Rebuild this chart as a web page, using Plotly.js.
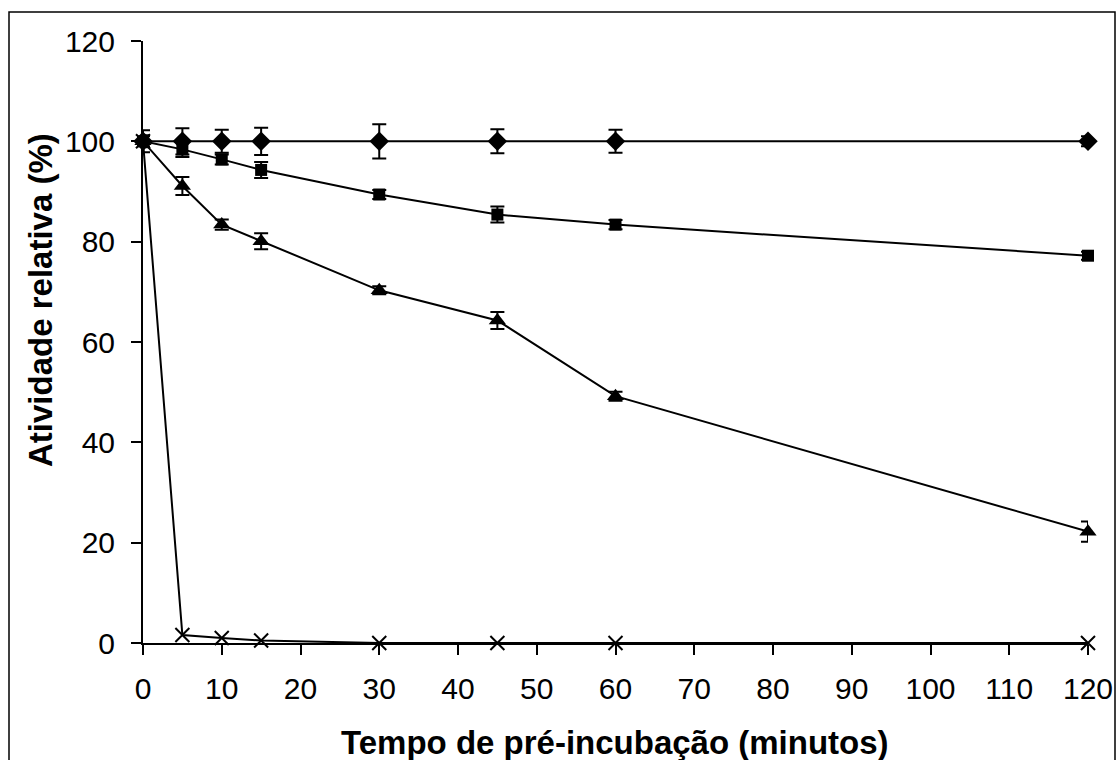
<!DOCTYPE html>
<html>
<head>
<meta charset="utf-8">
<script src="https://cdn.plot.ly/plotly-3.0.1.min.js"></script>
<style>html,body{margin:0;padding:0;background:#fff;}#chart{width:1118px;height:760px;}</style>
</head>
<body>
<div id="chart"></div>
<script>
var tempo = [0, 5, 10, 15, 30, 45, 60, 120];
var serieDiamante = [100, 100, 100, 100, 100, 100, 100, 100];
var erroDiamante = [2.2, 2.6, 2.3, 2.7, 3.4, 2.4, 2.3, 1.0];
var serieQuadrado = [100, 98.4, 96.4, 94.3, 89.4, 85.4, 83.4, 77.2];
var erroQuadrado = [1.2, 1.5, 1.0, 1.6, 0.9, 1.6, 0.9, 0.8];
var serieTriangulo = [100, 91.1, 83.4, 80.1, 70.3, 64.3, 49.2, 22.2];
var erroTriangulo = [1.0, 1.8, 1.0, 1.6, 0.8, 1.7, 0.9, 2.0];
var serieX = [100, 1.6, 1.0, 0.5, 0, 0, 0, 0];
var xTicks = [0, 10, 20, 30, 40, 50, 60, 70, 80, 90, 100, 110, 120];
var yTicks = [0, 20, 40, 60, 80, 100, 120];
var xTitle = 'Tempo de pré-incubação (minutos)';
var yTitle = 'Atividade relativa (%)';

function trace(y, err, symbol, size, lw) {
  var t = {
    x: tempo, y: y, type: 'scatter', mode: 'lines+markers',
    line: {color: '#000', width: 2},
    marker: {symbol: symbol, size: size, color: '#000', line: {color: '#000', width: lw || 0}},
    showlegend: false, cliponaxis: false
  };
  if (err) t.error_y = {type: 'data', array: err, visible: true, color: '#000', thickness: 2, width: 7};
  return t;
}

var data = [
  trace(serieX, null, 'x-thin-open', 14, 2),
  trace(serieTriangulo, erroTriangulo, 'triangle-up', 15),
  trace(serieQuadrado, erroQuadrado, 'square', 12),
  trace(serieDiamante, erroDiamante, 'diamond', 15)
];

var fam = 'Liberation Sans, Arial, sans-serif';
var W = 1118, H = 760, L = 143, R = 30, T = 41, B = 117;
var pw = W - L - R, ph = H - T - B;
var layout = {
  width: W, height: H,
  margin: {l: L, r: R, t: T, b: B},
  paper_bgcolor: '#fff', plot_bgcolor: '#fff',
  font: {family: fam, color: '#000'},
  showlegend: false,
  xaxis: {
    range: [0, 120], tickvals: xTicks, ticktext: xTicks.map(String),
    showgrid: false, zeroline: false, showline: true, linecolor: '#000', linewidth: 2,
    ticks: 'outside', ticklen: 10, tickwidth: 2, tickcolor: '#000',
    ticklabelstandoff: 8,
    tickfont: {family: fam, size: 30, color: '#000'}
  },
  yaxis: {
    range: [0, 120], tickvals: yTicks, ticktext: yTicks.map(String),
    showgrid: false, zeroline: false, showline: true, linecolor: '#000', linewidth: 2,
    ticks: 'outside', ticklen: 10, tickwidth: 2, tickcolor: '#000',
    ticklabelstandoff: 10,
    tickfont: {family: fam, size: 30, color: '#000'}
  },
  annotations: [
    {text: '<b>' + xTitle + '</b>', xref: 'paper', yref: 'paper',
     x: (615 - L) / pw, y: (H - B - 742) / ph, xanchor: 'center', yanchor: 'middle',
     showarrow: false, font: {family: fam, size: 33, color: '#000'}},
    {text: '<b>' + yTitle + '</b>', xref: 'paper', yref: 'paper', textangle: -90,
     x: (40 - L) / pw, y: (H - B - 300) / ph, xanchor: 'center', yanchor: 'middle',
     showarrow: false, font: {family: fam, size: 33, color: '#000'}}
  ],
  shapes: [{
    type: 'rect', xref: 'paper', yref: 'paper',
    x0: (9 - L) / pw, x1: (1115 - L) / pw, y0: (H - B - 790) / ph, y1: (H - B - 12) / ph,
    line: {color: '#000', width: 1.5}, fillcolor: 'rgba(0,0,0,0)', layer: 'below'
  }]
};

Plotly.newPlot('chart', data, layout, {displayModeBar: false, staticPlot: true});
</script>
</body>
</html>
